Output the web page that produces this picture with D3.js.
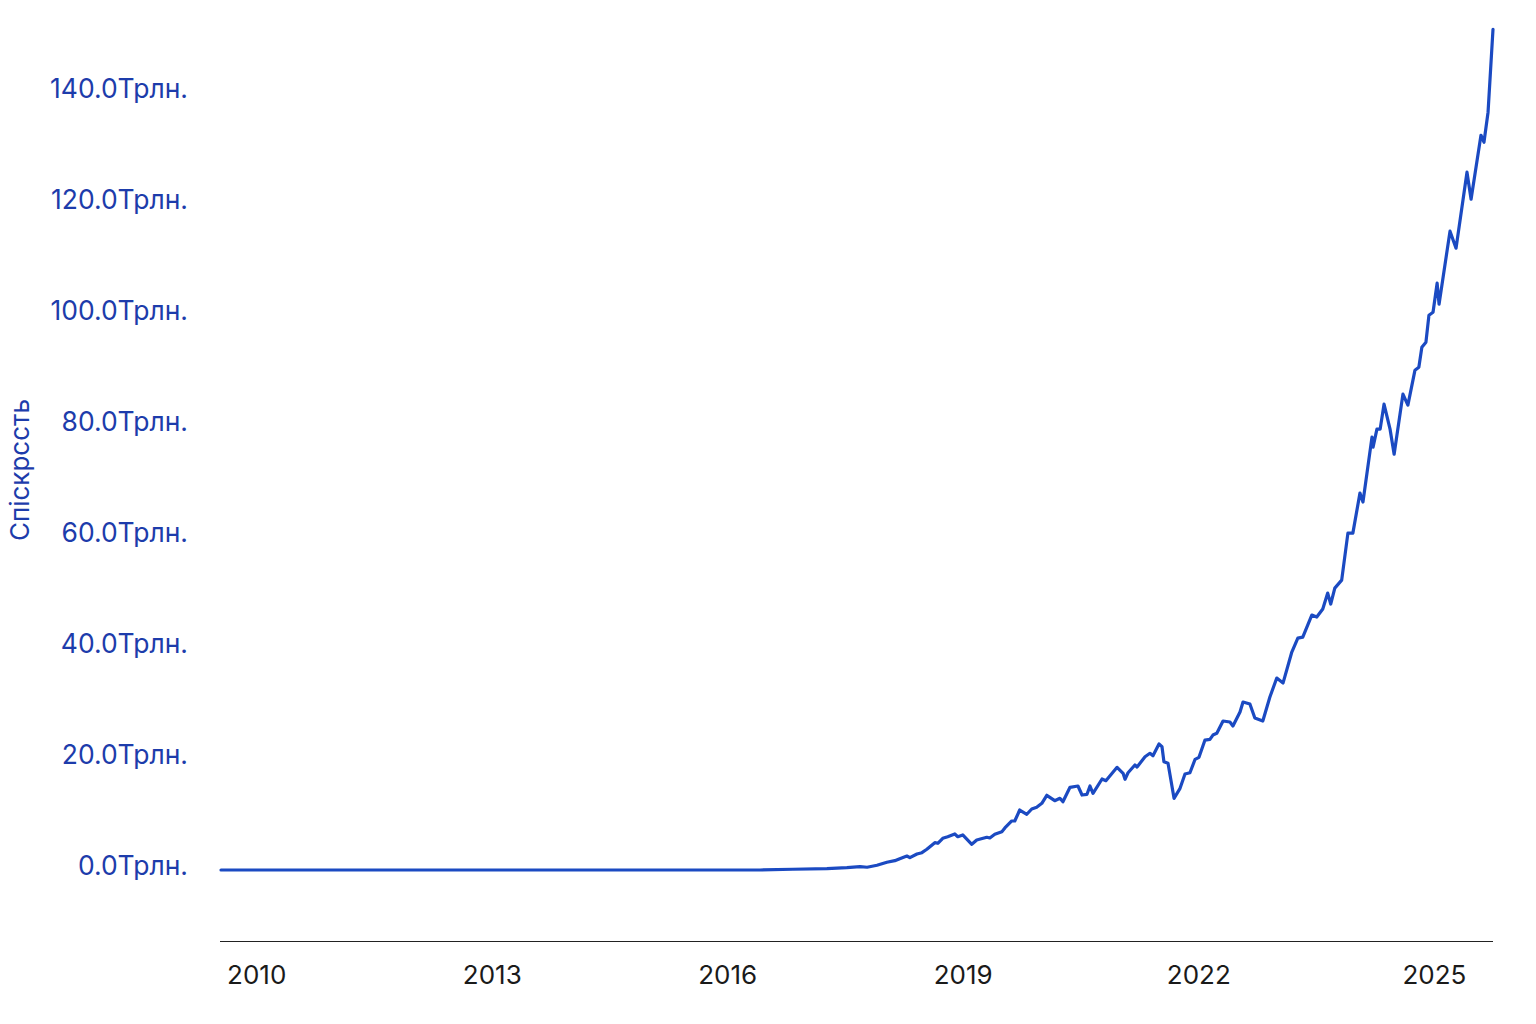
<!DOCTYPE html>
<html>
<head>
<meta charset="utf-8">
<script src="https://cdn.jsdelivr.net/npm/d3@7"></script>
<style>
  body { margin: 0; background: #fff; }
  svg { display: block; font-family: Inter, "Noto Sans", sans-serif; }
</style>
</head>
<body>
<svg id="chart" width="1536" height="1024"></svg>
<script>
var dates = [
  "2009-08-04", "2010-06-01", "2012-01-01", "2014-01-01", "2015-06-01", "2016-06-16",
  "2016-11-16", "2017-04-23", "2017-07-25", "2017-09-24", "2017-10-27", "2017-12-12",
  "2018-01-27", "2018-03-05", "2018-03-28", "2018-04-30", "2018-05-14", "2018-06-16",
  "2018-07-09", "2018-08-01", "2018-09-07", "2018-09-21", "2018-10-14", "2018-11-06",
  "2018-12-09", "2018-12-23", "2019-01-15", "2019-02-26", "2019-03-21", "2019-05-07",
  "2019-05-21", "2019-06-13", "2019-07-16", "2019-07-30", "2019-08-31", "2019-09-14",
  "2019-10-07", "2019-11-09", "2019-12-02", "2019-12-25", "2020-01-18", "2020-02-10",
  "2020-03-18", "2020-04-11", "2020-04-25", "2020-05-28", "2020-07-04", "2020-07-23",
  "2020-08-15", "2020-08-29", "2020-09-12", "2020-10-24", "2020-11-11", "2021-01-02",
  "2021-01-30", "2021-02-08", "2021-02-22", "2021-03-26", "2021-04-05", "2021-05-12",
  "2021-06-04", "2021-06-18", "2021-07-16", "2021-07-30", "2021-08-08", "2021-08-27",
  "2021-09-24", "2021-10-22", "2021-11-14", "2021-12-07", "2021-12-31", "2022-01-18",
  "2022-02-15", "2022-03-10", "2022-03-24", "2022-04-11", "2022-05-10", "2022-06-11",
  "2022-06-25", "2022-07-28", "2022-08-11", "2022-09-12", "2022-10-05", "2022-11-11",
  "2022-12-14", "2023-01-15", "2023-02-13", "2023-03-26", "2023-04-23", "2023-05-16",
  "2023-06-27", "2023-07-20", "2023-08-17", "2023-09-09", "2023-09-23", "2023-10-12",
  "2023-11-13", "2023-12-12", "2024-01-04", "2024-02-06", "2024-02-20", "2024-04-02",
  "2024-04-07", "2024-04-25", "2024-05-10", "2024-05-28", "2024-06-25", "2024-07-14",
  "2024-08-24", "2024-09-16", "2024-10-19", "2024-11-06", "2024-11-20", "2024-12-09",
  "2024-12-23", "2025-01-11", "2025-01-30", "2025-02-08", "2025-03-31", "2025-04-28",
  "2025-06-18", "2025-07-07", "2025-08-22", "2025-09-05", "2025-09-24", "2025-10-17"
];

// трлн.
var values = [
  0.0, 0.0, 0.0, 0.0, 0.0, 0.0,
  0.13, 0.23, 0.41, 0.59, 0.49, 0.85,
  1.39, 1.68, 2.04, 2.52, 2.22, 2.88,
  3.12, 3.73, 4.92, 4.81, 5.71, 6.0,
  6.49, 6.0, 6.31, 4.63, 5.41, 5.89,
  5.77, 6.43, 6.9, 7.57, 8.83, 8.83,
  10.81, 10.04, 10.99, 11.3, 12.02, 13.46,
  12.49, 12.92, 12.31, 14.9, 15.14, 13.51,
  13.64, 15.14, 13.82, 16.4, 16.09, 18.5,
  17.42, 16.34, 17.53, 18.92, 18.56, 20.41,
  21.03, 20.59, 22.7, 22.22, 19.51, 19.22,
  12.92, 14.72, 17.3, 17.53, 19.95, 20.31,
  23.42, 23.55, 24.32, 24.63, 26.85, 26.67,
  25.95, 28.47, 30.27, 29.91, 27.39, 26.85,
  31.17, 34.59, 33.69, 39.28, 41.8, 41.98,
  45.95, 45.59, 47.03, 49.91, 47.93, 50.81,
  52.25, 60.72, 60.72, 67.93, 66.31, 78.02,
  76.22, 79.46, 79.46, 83.96, 79.46, 74.95,
  85.77, 83.78, 90.09, 90.63, 94.23, 95.14,
  100.0, 100.54, 105.77, 101.98, 115.14, 112.07,
  125.77, 120.9, 132.43, 131.17, 136.58, 151.53
];

var yTicks = [0, 20, 40, 60, 80, 100, 120, 140];
var yTitle = "Спіскрссть";

var svg = d3.select("#chart");
var parse = d3.timeParse("%Y-%m-%d");

var data = dates.map(function(d, i) {
    return { date: parse(d), value: values[i] };
});

var x = d3.scaleTime()
    .domain(d3.extent(data, function(d) { return d.date; }))
    .range([221, 1493]);

var y = d3.scaleLinear()
    .domain([-12.8, 152.3])
    .range([941, 25]);

// x axis
var xAxis = svg.append("g")
    .attr("transform", "translate(0,941)")
    .call(d3.axisBottom(x)
        .ticks(d3.timeYear.every(3))
        .tickFormat(d3.timeFormat("%Y"))
        .tickSize(0)
        .tickPadding(25));

xAxis.select(".domain")
    .attr("d", "M220,0.5H1493")
    .attr("stroke", "#222")
    .attr("stroke-width", 1.2);

xAxis.selectAll("text")
    .attr("dx", 3)
    .attr("fill", "#1a1a1a")
    .style("font-family", "Inter")
    .style("font-size", "26px");

// y axis
var yAxis = svg.append("g")
    .attr("transform", "translate(188,-4)")
    .call(d3.axisLeft(y)
        .tickValues(yTicks)
        .tickFormat(function(d) { return d.toFixed(1) + "Трлн."; })
        .tickSize(0)
        .tickPadding(0));

yAxis.select(".domain").remove();

yAxis.selectAll("text")
    .attr("fill", "#1d3cab")
    .style("font-family", "Inter")
    .style("font-size", "26.5px");

svg.append("text")
    .attr("transform", "translate(29,470) rotate(-90)")
    .attr("text-anchor", "middle")
    .attr("fill", "#1d3cab")
    .style("font-family", "Inter")
    .style("font-size", "26px")
    .text(yTitle);

var line = d3.line()
    .x(function(d) { return x(d.date); })
    .y(function(d) { return y(d.value); });

svg.append("path")
    .datum(data)
    .attr("d", line)
    .attr("fill", "none")
    .attr("stroke", "#1b4ac2")
    .attr("stroke-width", 3.2)
    .attr("stroke-linejoin", "round")
    .attr("stroke-linecap", "round");
</script>
</body>
</html>
